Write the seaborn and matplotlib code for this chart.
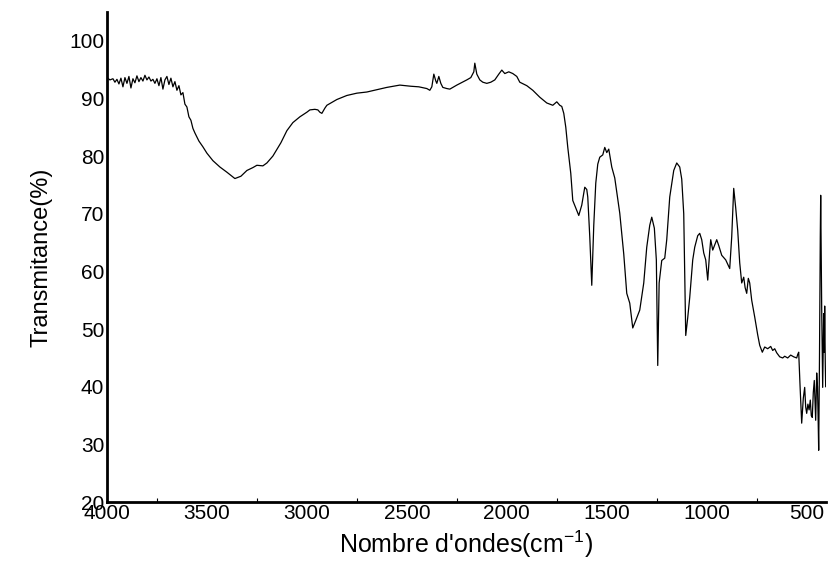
import numpy as np
import pandas as pd
import matplotlib
matplotlib.use("Agg")
import matplotlib.pyplot as plt
import seaborn as sns

wavenumber = [4000, 3985, 3970, 3960, 3950, 3940, 3930, 3920, 3910, 3900,
              3890, 3880, 3870, 3860, 3850, 3840, 3830, 3820, 3810, 3800,
              3790, 3780, 3770, 3760, 3750, 3740, 3730, 3720, 3710, 3700,
              3690, 3680, 3670, 3660, 3650, 3640, 3630, 3620, 3610, 3600,
              3590, 3580, 3570, 3560, 3540, 3520, 3500, 3470, 3435, 3400,
              3360, 3330, 3300, 3270, 3250, 3220, 3200, 3170, 3130, 3100,
              3070, 3035, 3000, 2985, 2960, 2945, 2935, 2925, 2910, 2900,
              2850, 2800, 2750, 2700, 2650, 2600, 2535, 2480, 2440, 2400,
              2385, 2375, 2365, 2355, 2350, 2340, 2330, 2320, 2300, 2285,
              2250, 2200, 2180, 2165, 2160, 2150, 2135, 2120, 2100, 2080,
              2060, 2040, 2025, 2010, 1990, 1970, 1950, 1935, 1900, 1870,
              1835, 1800, 1770, 1750, 1735, 1725, 1715, 1705, 1695, 1680,
              1670, 1655, 1640, 1625, 1610, 1600, 1595, 1585, 1575, 1565,
              1555, 1545, 1535, 1520, 1510, 1500, 1490, 1475, 1460, 1435,
              1415, 1400, 1385, 1370, 1355, 1335, 1315, 1300, 1285, 1275,
              1262, 1252, 1245, 1238, 1225, 1210, 1200, 1185, 1165, 1150,
              1135, 1125, 1115, 1105, 1095, 1085, 1070, 1060, 1045, 1035,
              1025, 1015, 1005, 995, 985, 980, 970, 960, 950, 940,
              925, 905, 885, 875, 865, 855, 845, 835, 825, 815,
              808, 800, 792, 785, 775, 760, 745, 735, 722, 710,
              695, 680, 670, 660, 650, 635, 620, 610, 595, 580,
              565, 550, 545, 540, 533, 525, 517, 510, 505, 500,
              494, 488, 482, 477, 472, 467, 462, 457, 455, 450,
              446, 443, 440, 436, 432, 430, 427, 425, 422, 420,
              417, 415, 412, 410, 407, 405]
transmittance = [93.6, 93.2, 93.4, 92.8, 93.3, 92.5, 93.5, 92.0, 93.6, 92.6,
                 93.8, 91.8, 93.4, 92.7, 93.9, 92.9, 93.6, 93.0, 94.0, 93.2,
                 93.7, 93.0, 93.3, 92.6, 93.4, 92.2, 93.6, 91.6, 93.2, 93.8,
                 92.4, 93.5, 92.0, 92.9, 91.4, 92.2, 90.6, 91.0, 89.0, 88.5,
                 86.8, 86.2, 84.8, 84.0, 82.6, 81.6, 80.5, 79.2, 78.1, 77.2,
                 76.1, 76.5, 77.5, 78.0, 78.4, 78.3, 78.8, 80.0, 82.3, 84.4,
                 85.8, 86.8, 87.6, 88.0, 88.1, 88.0, 87.6, 87.4, 88.3, 88.8,
                 89.8, 90.5, 90.9, 91.1, 91.5, 91.9, 92.3, 92.1, 92.0, 91.7,
                 91.4, 92.0, 94.2, 93.0, 92.6, 93.8, 92.6, 91.9, 91.7, 91.6,
                 92.3, 93.2, 93.6, 94.6, 96.1, 94.2, 93.2, 92.8, 92.6, 92.8,
                 93.2, 94.2, 94.9, 94.3, 94.6, 94.3, 93.8, 92.8, 92.2, 91.4,
                 90.2, 89.2, 88.8, 89.4, 88.8, 88.6, 87.4, 85.0, 81.5, 77.0,
                 72.3, 71.0, 69.7, 71.5, 74.6, 74.2, 72.9, 66.0, 57.6, 68.0,
                 75.3, 78.6, 79.8, 80.2, 81.5, 80.6, 81.2, 78.1, 76.2, 70.1,
                 63.0, 56.2, 54.5, 50.2, 51.5, 53.3, 58.0, 64.2, 68.0, 69.4,
                 67.5, 62.0, 43.7, 58.0, 61.9, 62.3, 65.5, 72.9, 77.5, 78.8,
                 78.1, 76.0, 70.0, 48.9, 52.0, 55.5, 62.0, 64.2, 66.2, 66.6,
                 65.5, 63.2, 62.0, 58.5, 63.5, 65.5, 63.7, 64.6, 65.5, 64.5,
                 62.8, 62.0, 60.5, 66.0, 74.4, 71.0, 67.1, 61.5, 58.0, 59.0,
                 57.2, 56.2, 58.8, 58.0, 55.0, 52.1, 49.0, 47.2, 46.0, 46.9,
                 46.6, 47.0, 46.3, 46.6, 45.9, 45.2, 45.0, 45.3, 45.0, 45.5,
                 45.2, 45.0, 45.6, 46.0, 40.0, 33.7, 38.0, 39.9, 36.5, 35.4,
                 37.0, 36.0, 37.7, 35.0, 34.7, 39.0, 41.1, 36.0, 34.2, 42.4,
                 40.0, 35.0, 29.0, 45.0, 66.0, 73.2, 62.0, 53.8, 46.0, 39.9,
                 48.0, 52.7, 46.0, 54.0, 44.0, 40.0]

xticks = [4000, 3500, 3000, 2500, 2000, 1500, 1000, 500]
yticks = [20, 30, 40, 50, 60, 70, 80, 90, 100]

df = pd.DataFrame({"wavenumber": wavenumber, "transmittance": transmittance})

sns.set_theme(style="white")
plt.rcParams["font.family"] = ["Liberation Sans", "DejaVu Sans"]
plt.rcParams["mathtext.fontset"] = "custom"
plt.rcParams["mathtext.rm"] = "Liberation Sans"
plt.rcParams["mathtext.it"] = "Liberation Sans"
plt.rcParams["mathtext.default"] = "regular"

fig = plt.figure(figsize=(8.29, 5.63), dpi=100)
ax = fig.add_axes([0.129, 0.108, 0.867, 0.871])
sns.lineplot(data=df, x="wavenumber", y="transmittance", ax=ax, color="black",
             linewidth=0.9, sort=False, estimator=None)

ax.set_xlim(4000, 405)
ax.set_ylim(20, 105)
ax.set_xticks(xticks)
ax.set_xticklabels([str(t) for t in xticks])
ax.set_yticks(yticks)
ax.set_yticklabels([str(t) for t in yticks])
ax.set_xticks([3750, 3250, 2750, 2250, 1750, 1250, 750], minor=True)
ax.tick_params(axis="x", which="major", direction="in", length=0, labelsize=15, pad=1, colors="black")
ax.tick_params(axis="x", which="minor", direction="in", length=3, width=0.8, color="black", bottom=True)
ax.tick_params(axis="y", which="major", length=0, labelsize=15, pad=2, colors="black")

for s in ["top", "right"]:
    ax.spines[s].set_visible(False)
for s in ["left", "bottom"]:
    ax.spines[s].set_color("black")
    ax.spines[s].set_linewidth(2.0)

ax.set_xlabel("Nombre d'ondes(cm$^{-1}$)", fontsize=18, color="black", labelpad=4)
ax.set_ylabel("Transmitance(%)", fontsize=17, color="black", labelpad=12)
ax.grid(False)

fig.savefig("out.png", dpi=100)
